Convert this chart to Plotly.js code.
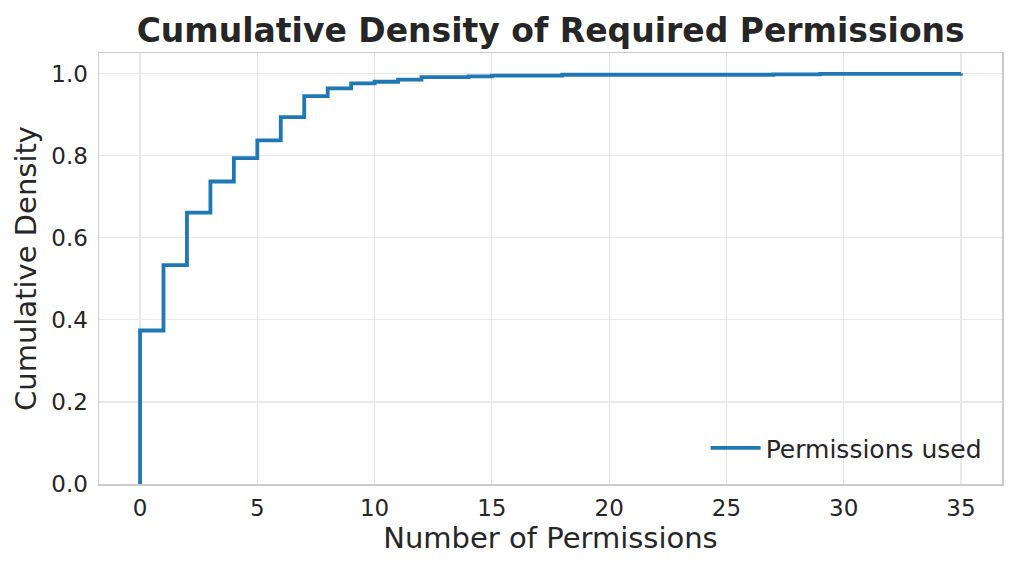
<!DOCTYPE html>
<html>
<head>
<meta charset="utf-8">
<script src="https://cdn.plot.ly/plotly-3.0.1.min.js"></script>
<style>html,body{margin:0;padding:0;background:#fff;}#chart{width:1016px;height:567px;}</style>
</head>
<body>
<div id="chart"></div>
<script>
// ECDF of number of permissions used (step points, post-step)
const permCounts = [0, 0, 1, 2, 3, 4, 5, 6, 7, 8, 9, 10, 11, 12, 14, 15, 18, 27, 29, 35];
const cumDensity = [0, 0.374, 0.533, 0.661, 0.737, 0.794, 0.837, 0.894, 0.945, 0.964, 0.976, 0.980, 0.985, 0.991, 0.993, 0.995, 0.997, 0.998, 0.999, 1.0];
const seriesName = 'Permissions used';
const xTicks = [0, 5, 10, 15, 20, 25, 30, 35];
const yTicks = [0, 0.2, 0.4, 0.6, 0.8, 1.0];

const font = 'DejaVu Sans, sans-serif';
const trace = {
  x: permCounts, y: cumDensity, name: seriesName,
  type: 'scatter', mode: 'lines',
  line: {shape: 'hv', color: '#1f77b4', width: 3.8},
  showlegend: true
};
const layout = {
  width: 1016, height: 567,
  margin: {l: 99, r: 14, t: 53, b: 83, pad: 0},
  paper_bgcolor: '#fff', plot_bgcolor: '#fff',
  font: {family: font, color: '#262626', size: 23},
  title: {text: '<b>Cumulative Density of Required Permissions</b>', font: {family: font, size: 33, color: '#262626'}, x: 0.542, xanchor: 'center', y: 0.947, yanchor: 'middle'},
  xaxis: {
    range: [-1.75, 36.75], tickvals: xTicks, ticks: '', showgrid: true, gridcolor: '#e8e8e8', gridwidth: 1.2,
    zeroline: false, showline: true, linecolor: '#cccccc', linewidth: 1.5, mirror: true,
    tickfont: {size: 23, color: '#262626'}, ticklabelstandoff: 3,
    title: {text: 'Number of Permissions', font: {size: 29, color: '#262626'}, standoff: 4}
  },
  yaxis: {
    range: [0, 1.05], tickvals: yTicks, tickformat: '.1f', ticks: '', showgrid: true, gridcolor: '#e8e8e8', gridwidth: 1.2,
    zeroline: false, showline: true, linecolor: '#cccccc', linewidth: 1.5, mirror: true,
    tickfont: {size: 23, color: '#262626'}, ticklabelstandoff: 5,
    title: {text: 'Cumulative Density', font: {size: 29, color: '#262626'}, standoff: 6}
  },
  legend: {x: 0.983, y: 0.03, xanchor: 'right', yanchor: 'bottom', itemwidth: 50, bgcolor: 'rgba(0,0,0,0)', borderwidth: 0, font: {size: 25, color: '#262626'}}
};
Plotly.newPlot('chart', [trace], layout, {displayModeBar: false, staticPlot: true});
</script>
</body>
</html>
